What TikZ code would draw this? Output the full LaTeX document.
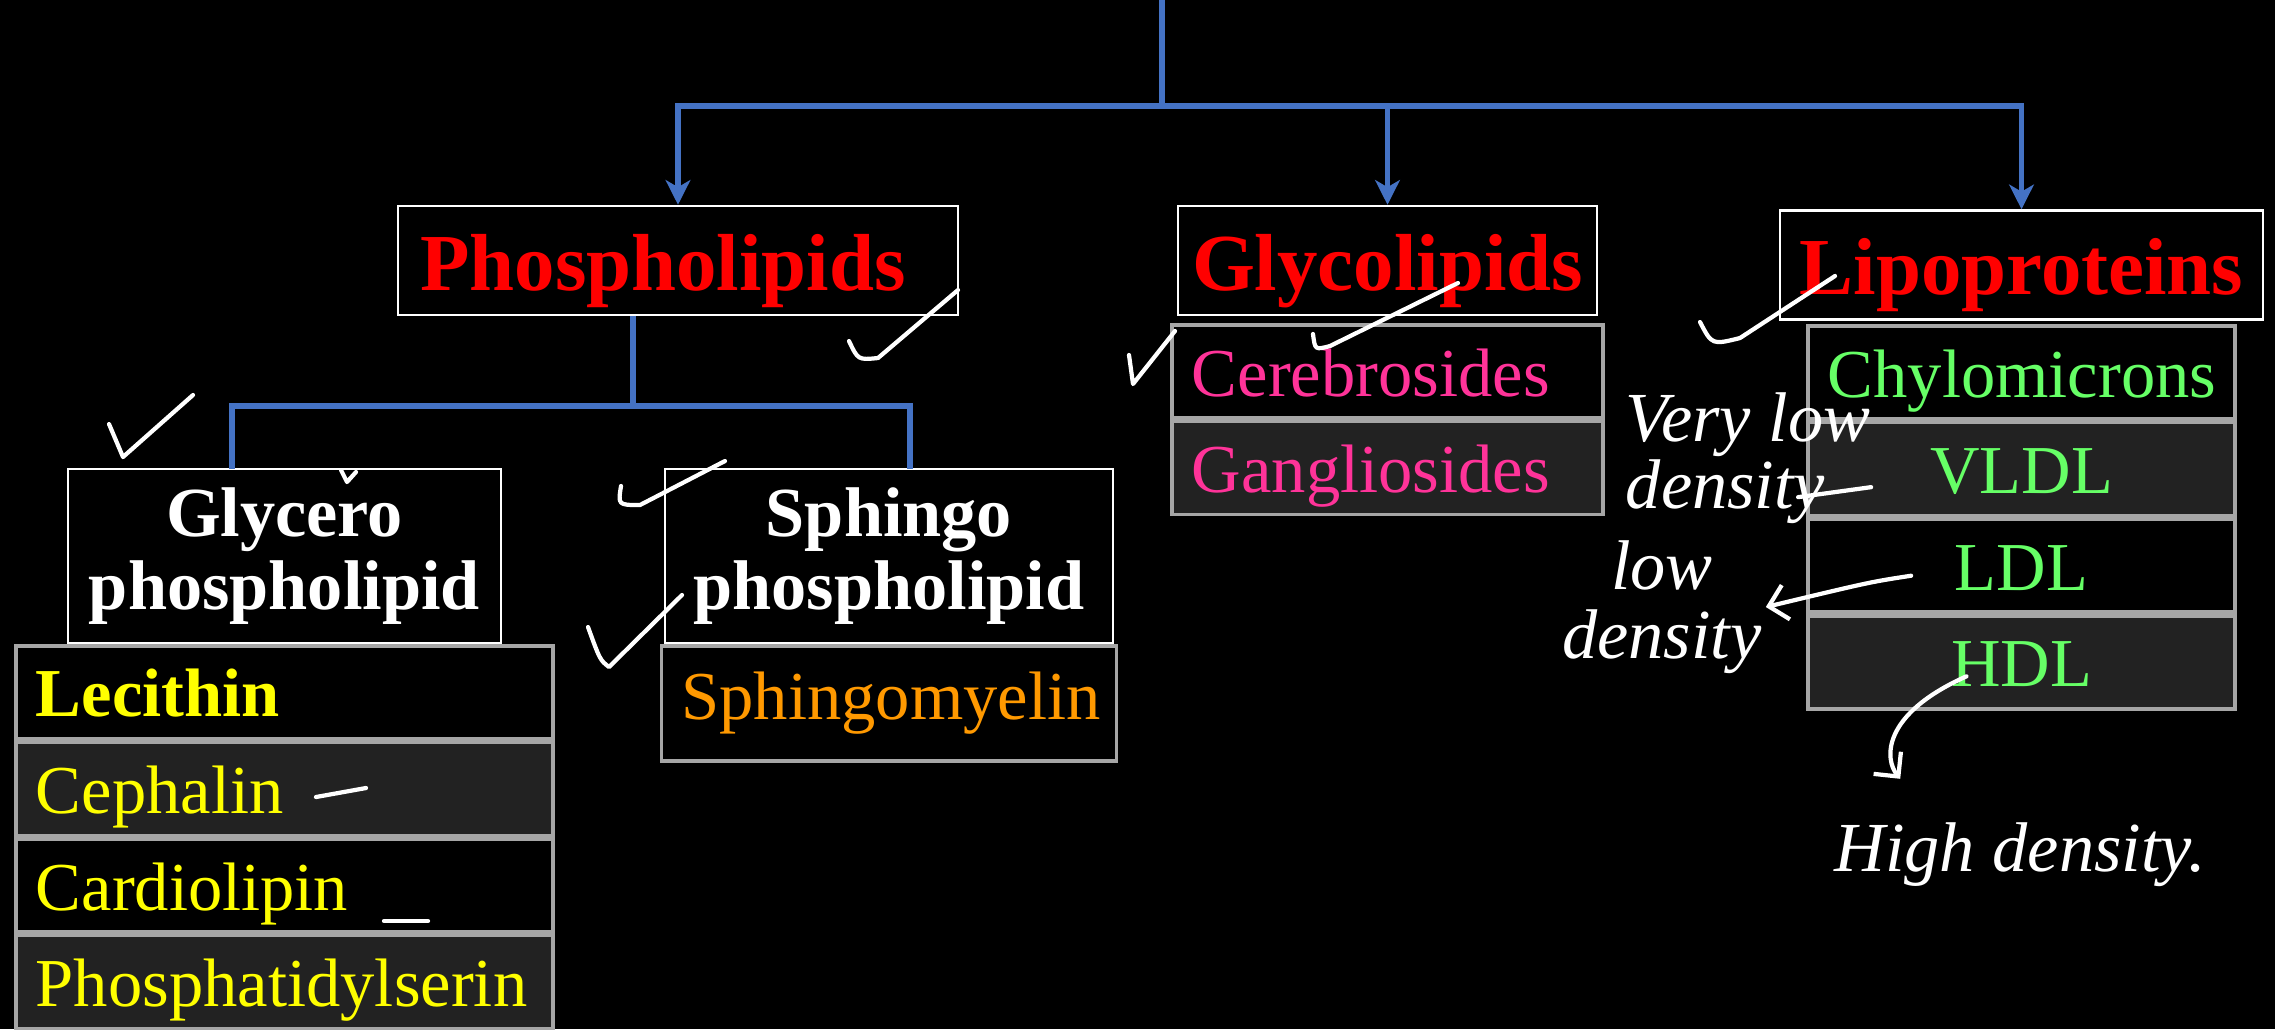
\documentclass[tikz,border=0pt]{standalone}
\usepackage{fontspec}
\setmainfont{Liberation Serif}
\usetikzlibrary{arrows.meta, positioning, calc}
\definecolor{linkblue}{HTML}{4472C4}
\definecolor{rowgray}{HTML}{222222}
\definecolor{edgegray}{HTML}{A6A6A6}
\definecolor{headred}{HTML}{FF0000}
\definecolor{glypink}{HTML}{FF3399}
\definecolor{lipogreen}{HTML}{66FF66}
\definecolor{phosyellow}{HTML}{FFFF00}
\definecolor{sphorange}{HTML}{FF9900}
\tikzset{
  head/.style={rectangle,draw=white,line width=0.7pt,fill=black,text=headred,font=\fontsize{23}{26}\selectfont\bfseries,inner ysep=0pt,text height=0.84cm,text depth=0.25cm},
  subhead/.style={rectangle,draw=white,line width=0.6pt,fill=black,text=white,align=center,font=\fontsize{20}{21}\selectfont\bfseries,minimum height=1.74cm},
  row/.style={rectangle,draw=edgegray,line width=1pt,fill=black,font=\fontsize{19.5}{22}\selectfont,inner xsep=0.2cm,inner ysep=0pt,text height=0.71cm,text depth=0.22cm},
  dark/.style={fill=rowgray},
  phosrow/.style={row,text=phosyellow,text width=4.97cm,align=left},
  sphrow/.style={row,text=sphorange,text width=4.15cm,align=left},
  glyrow/.style={row,text=glypink,text width=3.91cm,align=left},
  liporow/.style={row,text=lipogreen,text width=3.87cm,align=center},
  link/.style={draw=linkblue,line width=1.6pt},
  arrow/.style={link,-{Stealth[length=7pt,width=7pt,inset=2pt]}},
  hand/.style={draw=white,line width=1.2pt,line cap=round,line join=round},
  note/.style={text=white,font=\fontsize{20}{19.5}\selectfont\itshape,align=center,inner sep=1pt}
}

\begin{document}
\begin{tikzpicture}[x=0.01cm,y=-0.01cm]
\fill[black] (0,0) rectangle (2275,1029);
\useasboundingbox (0,0) rectangle (2275,1029);

% main groups
\node[head,minimum width=5.6cm] (phospho) at (678,260.5) {Phospholipids\hspace*{0.3cm}};
\node[head,minimum width=4.19cm] (glyco) at (1387.5,260.5) {Glycolipids};
\node[head,minimum width=4.83cm] (lipo) at (2021.5,265) {Lipoproteins};

% phospholipid subtypes
\node[subhead,minimum width=4.33cm] (glycero) at (284.5,556) {Glycero\\phospholipid};
\node[subhead,minimum width=4.48cm] (sphingo) at (889,556) {Sphingo\\phospholipid};

% lists
\node[phosrow,below=0pt of glycero] (lecithin) {\bfseries Lecithin};
\node[phosrow,dark,below=0pt of lecithin] (cephalin) {Cephalin};
\node[phosrow,below=0pt of cephalin] (cardiolipin) {Cardiolipin};
\node[phosrow,dark,below=0pt of cardiolipin] (serine) {Phosphatidylserin};
\node[sphrow,below=0pt of sphingo,text height=0.74cm,text depth=0.41cm] (myelin) {Sphingomyelin};
\node[glyrow,below=2pt of glyco] (cerebro) {Cerebrosides};
\node[glyrow,dark,below=0pt of cerebro] (ganglio) {Gangliosides};
\node[liporow,below=1pt of lipo] (chylo) {Chylomicrons};
\node[liporow,dark,below=0pt of chylo] (vldl) {VLDL};
\node[liporow,below=0pt of vldl] (ldl) {LDL};
\node[liporow,dark,below=0pt of ldl] (hdl) {HDL};

% connectors
\coordinate (top) at (1162,0);
\coordinate (hub) at (1162,106);
\draw[link] (top) -- (hub);
\draw[arrow] (hub) -| (phospho.north);
\draw[arrow] (hub) -| (lipo.north);
\draw[arrow] (hub -| glyco.north) -- (glyco.north);
\coordinate (psplit) at (633,406);
\coordinate (gtap) at (232,469);
\coordinate (stap) at (910,469);
\draw[link] (phospho.south -| psplit) -- (psplit);
\draw[link] (gtap) |- (psplit) -| (stap);

% handwritten notes
\node[note,align=left,font=\fontsize{20}{17.5}\selectfont\itshape] (vldlnote) at (1748,458) {Very low\\density};
\node[note] (ldlnote) at (1662,607) {low\\density};
\node[note] (hdlnote) at (2020,855) {High density.};
\draw[hand] ($(vldl.west)+(-8,28)$) -- ($(vldl.west)+(65,18)$);
\draw[hand,-{Straight Barb[length=5pt,width=10pt]}] ($(ldl.west)+(105,10)$) .. controls (1870,582) .. (ldlnote.east);
\draw[hand,-{Straight Barb[length=5pt,width=10pt]}] ($(hdl.center)+(-55,14)$) .. controls (1880,715) and (1885,760) .. ($(hdlnote.north west)+(70,-40)$);

% ticks
\draw[hand] (849,341) .. controls (858,360) .. (878,358) -- (958,290);
\draw[hand] (109,424) -- (123,457) -- (193,395);
\draw[hand] (341,470) -- (347,482) -- (356,472);
\draw[hand] (621,486) .. controls (618,505) .. (640,505) -- (725,461);
\draw[hand] (588,627) .. controls (600,660) .. (609,667) -- (682,595);
\draw[hand] (1129,355) -- (1133,384) -- (1175,331);
\draw[hand] (1313,334) .. controls (1315,350) .. (1330,346) -- (1458,283);
\draw[hand] (1700,322) .. controls (1712,345) .. (1740,338) -- (1835,276);
\draw[hand] (316,797) -- (366,788);
\draw[hand] (384,921) -- (428,921);
\end{tikzpicture}
\end{document}
